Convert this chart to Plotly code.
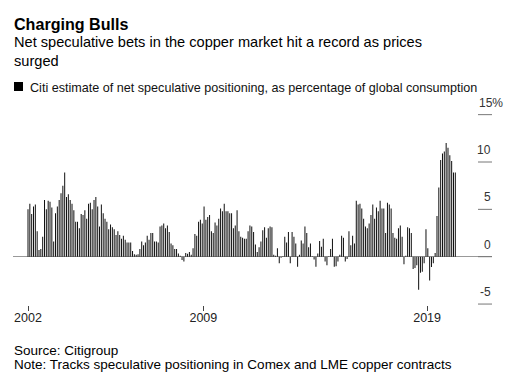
import plotly.graph_objects as go

# ---- data ----
seg_2002_2008 = [5.0, 5.6, 4.5, 5.3, 5.5, 2.7, 0.7, 0.8, 2.1, 6.0,
                 5.0, 5.9, 5.8, 5.2, 1.6, 4.6, 5.3, 6.0, 6.7, 7.5,
                 8.9, 6.3, 6.6, 6.0, 5.6, 4.9, 3.7, 3.7, 3.0, 4.5,
                 4.4, 4.9, 4.0, 5.6, 5.7, 5.0, 6.0, 6.3, 5.3, 3.2,
                 5.5, 4.6, 4.0, 3.7, 2.9, 3.4, 3.1, 2.9, 2.3, 2.7,
                 2.3, 1.9, 2.2, 1.8, 1.5, 1.5, 1.5, 0.6, 0.25, 0.2,
                 0.25, 0.8, 1.6, 1.2, 1.5, 2.2, 1.8, 2.5, 2.5, 1.6,
                 1.6, 1.5, 3.2, 3.3, 3.5, 3.0, 3.3, 2.6]
seg_2008_2016 = [1.4, 1.2, 0.8, 0.8, 0.35, 0.1, -0.35, -0.5, 0.4, 0.3,
                 0.5, 0.2, 0.9, 2.4, 2.2, 3.7, 3.9, 3.5, 5.3, 3.9,
                 4.2, 4.4, 2.7, 2.5, 3.6, 3.3, 4.0, 5.1, 4.8, 5.6,
                 4.8, 4.8, 4.6, 4.6, 3.0, 3.3, 4.9, 2.7, 2.1, 2.0,
                 1.9, 1.9, 2.7, 3.3, 3.2, 2.6, 1.3, 0.5, 1.0, 1.6,
                 2.8, 3.1, 2.0, 3.0, 3.2, 3.1, 0.2, 0.1, 0.9, -0.7,
                 -0.1, 0.05, 2.1, 1.5, 2.6, -0.7, 2.6, 2.1, 1.4, -1.05,
                 0.2, 1.7, 1.4, 3.2, 2.5, 1.0, 1.4, 0.05, -0.3, -1.05,
                 0.35, 1.65, 1.05, 1.9, -0.5, -0.9, 0.05, 0.8, 1.9, -1.05,
                 -1.0, -0.5, 0.2, 2.2, 2.0, -0.5, -0.25, 2.7]
seg_2016_2021 = [1.2, 2.2, 1.4, 5.9, 5.5, 5.6, 5.1, 4.0, 3.2, 3.0,
                 3.5, 4.4, 5.5, 4.0, 5.2, 4.8, 5.9, 5.1, 5.1, 2.5,
                 5.7, 5.5, 5.1, 2.5, 2.0, 1.9, 3.0, 3.3, 2.1, -0.8,
                 0.1, 3.1, 3.0, 2.5, -1.3, -1.2, -0.9, -3.5, -1.7, -1.6,
                 -0.7, 2.9, 0.9, -2.5, -1.1, -0.7, 0.4, 4.3, 7.3, 10.2,
                 10.9, 11.1, 12.0, 11.5, 10.7, 10.1, 8.9, 8.9]
net_positioning = seg_2002_2008 + seg_2008_2016 + seg_2016_2021
period_index = list(range(len(net_positioning)))

x_tick_pos = [0, 95.6, 217.6]
x_tick_text = ["2002", "2009", "2019"]
y_tick_vals = [-5, 0, 5, 10, 15]
y_tick_text = ["-5", "0", "5", "10", "15%"]

# ---- layout geometry (pixels) ----
W, H = 512, 380
L, R, T, B = 13, 492, 110, 305
FONT = "Liberation Sans, Arial, Helvetica, sans-serif"


def px(x):
    return (x - L) / (R - L)


def py(y):
    return (B - y) / (B - T)


fig = go.Figure()
fig.add_trace(go.Bar(
    x=period_index, y=net_positioning,
    width=0.55,
    marker=dict(color="#111111", line=dict(width=0)),
    showlegend=False, hoverinfo="skip",
))

annotations = [
    dict(text="<b>Charging Bulls</b>", x=px(12), y=py(13), xanchor="left", yanchor="top",
         font=dict(size=16.1, color="#000")),
    dict(text="Net speculative bets in the copper market hit a record as prices<br>surged",
         x=px(12), y=py(32), xanchor="left", yanchor="top", align="left",
         font=dict(size=14.6, color="#000")),
    dict(text="Citi estimate of net speculative positioning, as percentage of global consumption",
         x=px(28), y=py(79), xanchor="left", yanchor="top",
         font=dict(size=12.6, color="#111")),
    dict(text="Source: Citigroup", x=px(12), y=py(341), xanchor="left", yanchor="top",
         font=dict(size=13.5, color="#000")),
    dict(text="Note: Tracks speculative positioning in Comex and LME copper contracts",
         x=px(12), y=py(355), xanchor="left", yanchor="top",
         font=dict(size=13.5, color="#000")),
]
for v, t in zip(y_tick_vals, y_tick_text):
    if t.endswith("%"):
        annotations.append(dict(text=t, x=px(477), y=v, yref="y", xanchor="left",
                                yanchor="bottom", yshift=3,
                                font=dict(size=12, color="#333")))
    else:
        annotations.append(dict(text=t, x=px(493), y=v, yref="y", xanchor="right",
                                yanchor="bottom", yshift=3,
                                font=dict(size=12, color="#333")))
for a in annotations:
    a.setdefault("xref", "paper")
    a.setdefault("yref", "paper")
    a["showarrow"] = False

shapes = [dict(type="rect", xref="paper", yref="paper",
               x0=px(14), x1=px(23), y0=py(91), y1=py(82),
               fillcolor="#000", line=dict(width=0))]
for v in y_tick_vals:
    shapes.append(dict(type="line", xref="paper", yref="y",
                       x0=px(478), x1=px(492), y0=v, y1=v,
                       line=dict(color="#777", width=1)))

fig.update_layout(
    width=W, height=H,
    margin=dict(l=L, r=W - R, t=T, b=H - B, pad=0),
    paper_bgcolor="white", plot_bgcolor="white",
    font=dict(family=FONT, color="#000"),
    bargap=0.4,
    annotations=annotations,
    shapes=shapes,
    xaxis=dict(range=[(13 - 28) / 1.834, (492 - 28) / 1.834],
               tickvals=x_tick_pos, ticktext=x_tick_text,
               ticks="outside", ticklen=5, tickcolor="#444", tickwidth=1,
               ticklabelstandoff=-4,
               showgrid=False, zeroline=False, showline=False,
               tickfont=dict(size=12.5, color="#222")),
    yaxis=dict(range=[-(B - 256.7) / 9.47, (256.7 - T) / 9.47],
               side="right", showticklabels=False, ticks="",
               showgrid=False, showline=False,
               zeroline=True, zerolinecolor="#999", zerolinewidth=1),
)

fig.write_html("out.html", config={"staticPlot": True},
               post_script="document.body.style.margin='0';")
